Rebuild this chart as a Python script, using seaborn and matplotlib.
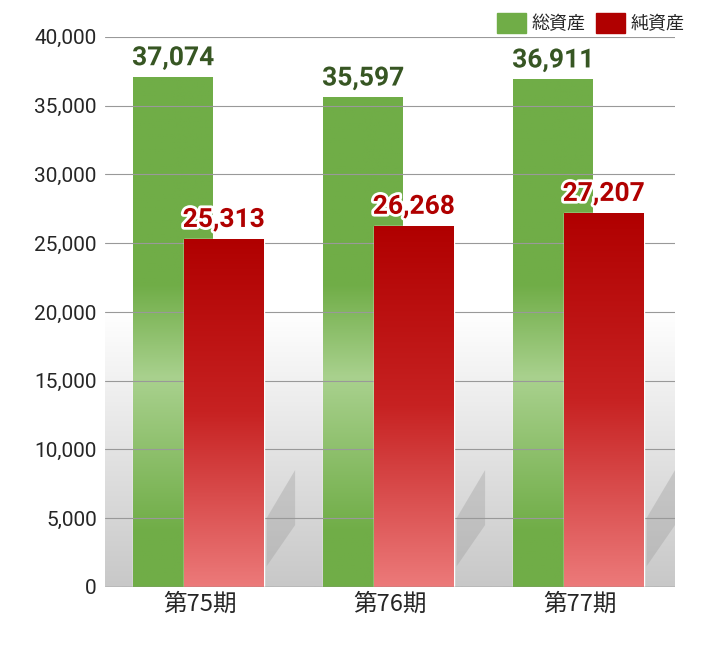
import numpy as np
import matplotlib
matplotlib.use("Agg")
import matplotlib.pyplot as plt
import matplotlib.patheffects as pe
from matplotlib.colors import LinearSegmentedColormap
from matplotlib.patches import Patch
import seaborn as sns

periods = ["第75期", "第76期", "第77期"]
total_assets = [37074, 35597, 36911]
net_assets = [25313, 26268, 27207]

sns.set_style("white")
plt.rcParams["font.family"] = ["Noto Sans CJK JP", "DejaVu Sans"]

fig = plt.figure(figsize=(7.01, 6.58), dpi=100)
ax = fig.add_axes([0.15, 0.108, 0.813, 0.836])

# background gradient
bg = LinearSegmentedColormap.from_list("bg", ["#ffffff", "#ffffff", "#c8c8c8"])
ax.imshow(np.linspace(0, 1, 256).reshape(-1, 1), cmap=bg, aspect="auto",
          extent=(-0.5, 2.5, 0, 40000), origin="lower", zorder=0)
ax.images[0].set_data(np.linspace(1, 0, 256).reshape(-1, 1))
# faint diagonal shadows
for i in range(3):
    ax.fill([i + 0.35, i + 0.5, i + 0.5, i + 0.35],
            [1500, 4500, 8500, 5000], color="#9a9a9a", alpha=0.35, lw=0, zorder=0.5)

green_cmap = LinearSegmentedColormap.from_list(
    "g", [(0, "#70ad47"), (0.1, "#70ad47"), (0.38, "#a9d18e"), (0.55, "#70ad47"), (1, "#70ad47")])
red_cmap = LinearSegmentedColormap.from_list("r", ["#ec7a7a", "#c72222", "#b00000"])

w = 0.42
sns.barplot(x=periods, y=total_assets, ax=ax, width=w, color="#70ad47", zorder=2)
sns.barplot(x=periods, y=net_assets, ax=ax, width=w, color="#b00000", zorder=3)

green_bars = list(ax.containers[0])
red_bars = list(ax.containers[1])
for i, p in enumerate(green_bars):
    p.set_x(i - 0.142 - w / 2)
for i, p in enumerate(red_bars):
    p.set_x(i + 0.124 - w / 2)

# vertical gradients clipped to bars (value 0 at bottom, 1 at top)
grad = np.linspace(0, 1, 256).reshape(-1, 1)
for bars, cmap in [(green_bars, green_cmap), (red_bars, red_cmap)]:
    for p in bars:
        x0, h = p.get_x(), p.get_height()
        top = 40000 if cmap is green_cmap else h
        im = ax.imshow(grad, cmap=cmap, aspect="auto", origin="lower",
                       extent=(x0, x0 + w, 0, top), zorder=p.get_zorder() + 0.1)
        im.set_clip_path(p)

stroke = [pe.withStroke(linewidth=4, foreground="white")]
for i in range(len(periods)):
    ax.text(i - 0.142, total_assets[i] + 500, f"{total_assets[i]:,}", ha="center", va="bottom",
            fontsize=19, fontweight="bold", color="#375623", family="Roboto",
            path_effects=stroke, zorder=6)
    ax.text(i + 0.124, net_assets[i] + 500, f"{net_assets[i]:,}", ha="center", va="bottom",
            fontsize=19, fontweight="bold", color="#b00000", family="Roboto",
            path_effects=stroke, zorder=6)

ax.set_xlim(-0.5, 2.5)
ax.set_ylim(0, 40000)
ax.set_yticks(range(0, 40001, 5000))
ax.set_yticklabels([f"{v:,}" for v in range(0, 40001, 5000)], fontsize=15, family="Roboto")
ax.tick_params(axis="x", labelsize=17, length=0, pad=4)
ax.tick_params(axis="y", length=0, pad=6)
ax.set_xlabel("")
ax.set_ylabel("")
ax.grid(axis="y", color="#999999", lw=0.8)
ax.set_axisbelow(False)
for gl in ax.get_ygridlines():
    gl.set_zorder(1)
for s in ax.spines.values():
    s.set_visible(False)
ax.axhline(0, color="#888888", lw=1, zorder=5)

fig.legend(handles=[Patch(color="#70ad47", label="総資産"), Patch(color="#b00000", label="純資産")],
           loc="upper right", bbox_to_anchor=(1.0, 1.005), ncol=2, frameon=False,
           fontsize=13, handlelength=1.6, handleheight=1.3, handletextpad=0.3, columnspacing=0.6)

fig.savefig("out.png", dpi=100)
